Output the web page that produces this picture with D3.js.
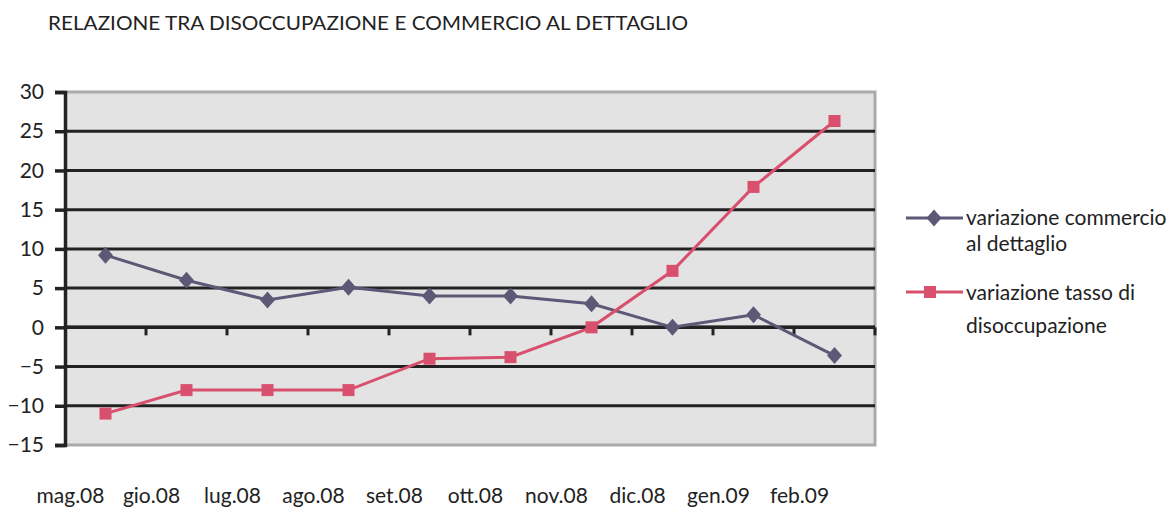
<!DOCTYPE html>
<html lang="it">
<head>
  <meta charset="UTF-8" />
  <title>Relazione tra disoccupazione e commercio al dettaglio</title>
  <script src="https://cdn.jsdelivr.net/npm/d3@7"></script>
  <style>
    html, body { margin: 0; padding: 0; background: #fff; }
    svg { display: block; }
    text { font-family: "Lato", "DejaVu Sans", sans-serif; fill: #222; }
  </style>
</head>
<body>
<script>
  // ----------------------------
  // Data
  // ----------------------------
  const months = ["mag.08", "gio.08", "lug.08", "ago.08", "set.08", "ott.08", "nov.08", "dic.08", "gen.09", "feb.09"];
  const commercio = [9.2, 6.0, 3.5, 5.1, 4.0, 4.0, 3.0, 0.0, 1.6, -3.6];
  const disoccupazione = [-11.0, -8.0, -8.0, -8.0, -4.0, -3.8, 0.0, 7.2, 17.9, 26.3];
  const yTicks = [30, 25, 20, 15, 10, 5, 0, -5, -10, -15];
  const seriesNames = [["variazione commercio", "al dettaglio"], ["variazione tasso di", "disoccupazione"]];

  const width = 1176, height = 527;
  const plot = { left: 65, right: 875, top: 92, bottom: 445 };

  const svg = d3.select("body").append("svg")
    .attr("width", width)
    .attr("height", height);

  // title
  svg.append("text")
    .attr("x", 48)
    .attr("y", 30)
    .attr("font-size", 19)
    .attr("textLength", 640)
    .attr("lengthAdjust", "spacingAndGlyphs")
    .text("RELAZIONE TRA DISOCCUPAZIONE E COMMERCIO AL DETTAGLIO");

  const x = d3.scaleBand().domain(months).range([plot.left, plot.right]);
  const y = d3.scaleLinear().domain([-15, 30]).range([plot.bottom, plot.top]);

  // plot background
  svg.append("rect")
    .attr("x", plot.left)
    .attr("y", plot.top)
    .attr("width", plot.right - plot.left)
    .attr("height", plot.bottom - plot.top)
    .attr("fill", "#e3e3e3");

  // gray frame (top, right, bottom)
  svg.append("path")
    .attr("d", `M${plot.left},${plot.top}H${plot.right}V${plot.bottom}H${plot.left}`)
    .attr("fill", "none")
    .attr("stroke", "#aaa")
    .attr("stroke-width", 3);

  // horizontal gridlines
  svg.append("g")
    .selectAll("line")
    .data(yTicks.filter(d => d !== 30 && d !== -15))
    .join("line")
      .attr("x1", plot.left)
      .attr("x2", plot.right)
      .attr("y1", d => y(d))
      .attr("y2", d => y(d))
      .attr("stroke", "#222")
      .attr("stroke-width", 3);

  // y axis
  const yAxis = svg.append("g")
    .attr("transform", `translate(${plot.left},0)`)
    .call(d3.axisLeft(y).tickValues(yTicks).tickSize(10).tickPadding(11).tickFormat(d3.format("d")));
  yAxis.select(".domain").attr("stroke", "#222").attr("stroke-width", 3.5);
  yAxis.selectAll(".tick line").attr("stroke", "#222").attr("stroke-width", 3.5);
  yAxis.selectAll(".tick text")
    .attr("font-size", 21)
    .attr("font-family", "Lato, 'DejaVu Sans', sans-serif")
    .attr("fill", "#222");

  // x axis at zero with ticks at band boundaries
  const xAxisG = svg.append("g");
  xAxisG.append("line")
    .attr("x1", plot.left)
    .attr("x2", plot.right)
    .attr("y1", y(0))
    .attr("y2", y(0))
    .attr("stroke", "#222")
    .attr("stroke-width", 3.5);
  xAxisG.selectAll("line.tk")
    .data(months)
    .join("line")
      .attr("class", "tk")
      .attr("x1", d => x(d) + x.bandwidth())
      .attr("x2", d => x(d) + x.bandwidth())
      .attr("y1", y(0))
      .attr("y2", y(0) + 8)
      .attr("stroke", "#222")
      .attr("stroke-width", 3);

  // x labels (shifted left as in the original)
  svg.append("g")
    .selectAll("text")
    .data(months)
    .join("text")
      .attr("x", d => x(d) + x.bandwidth() / 2 - 35)
      .attr("y", 503)
      .attr("text-anchor", "middle")
      .attr("font-size", 21)
      .text(d => d);

  const line = d3.line()
    .x((d, i) => x(months[i]) + x.bandwidth() / 2)
    .y(d => y(d));

  const colA = "#5e5876", colB = "#d9506f";
  const diamond = "M0,-8.5L7.5,0L0,8.5L-7.5,0Z";

  // commercio series
  svg.append("path")
    .datum(commercio)
    .attr("d", line)
    .attr("fill", "none")
    .attr("stroke", colA)
    .attr("stroke-width", 3);
  svg.append("g")
    .selectAll("path")
    .data(commercio)
    .join("path")
      .attr("d", diamond)
      .attr("transform", (d, i) => `translate(${x(months[i]) + x.bandwidth() / 2},${y(d)})`)
      .attr("fill", colA);

  // disoccupazione series
  svg.append("path")
    .datum(disoccupazione)
    .attr("d", line)
    .attr("fill", "none")
    .attr("stroke", colB)
    .attr("stroke-width", 3);
  svg.append("g")
    .selectAll("rect")
    .data(disoccupazione)
    .join("rect")
      .attr("x", (d, i) => x(months[i]) + x.bandwidth() / 2 - 6)
      .attr("y", d => y(d) - 6)
      .attr("width", 12)
      .attr("height", 12)
      .attr("fill", colB);

  // ----------------------------
  // Legend
  // ----------------------------
  const legend = svg.append("g");
  const legRows = [{ y: 218, color: colA, shape: "diamond" }, { y: 292, color: colB, shape: "square" }];
  legRows.forEach(r => {
    legend.append("line")
      .attr("x1", 906).attr("x2", 963)
      .attr("y1", r.y).attr("y2", r.y)
      .attr("stroke", r.color)
      .attr("stroke-width", 3);
    if (r.shape === "diamond") {
      legend.append("path")
        .attr("d", diamond)
        .attr("transform", `translate(934,${r.y})`)
        .attr("fill", r.color);
    } else {
      legend.append("rect")
        .attr("x", 924).attr("y", r.y - 6)
        .attr("width", 12).attr("height", 12)
        .attr("fill", r.color);
    }
  });
  const legLines = [[seriesNames[0][0], 225], [seriesNames[0][1], 251], [seriesNames[1][0], 300], [seriesNames[1][1], 333]];
  legend.selectAll("text")
    .data(legLines)
    .join("text")
      .attr("x", 966)
      .attr("y", d => d[1])
      .attr("font-size", 21)
      .text(d => d[0]);
</script>
</body>
</html>
